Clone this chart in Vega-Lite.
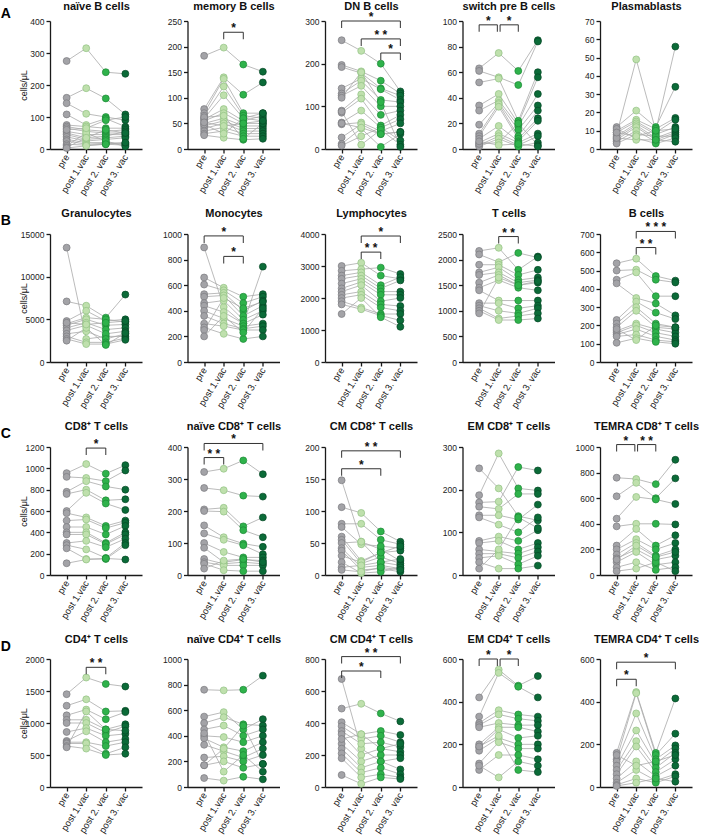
{
"$schema":"https://vega.github.io/schema/vega-lite/v6.json",
"padding":{"left":0,"top":0,"right":0,"bottom":0},
"config":{
 "font":"Liberation Sans",
 "view":{"stroke":null},
 "axis":{"domainColor":"#1a1a1a","domainWidth":1.3,"tickColor":"#1a1a1a","tickWidth":1.3,"tickSize":4,"labelFontSize":8.5,"labelColor":"#222","labelPadding":2,"grid":false,"titleFontSize":9,"titleFontWeight":"normal","titleColor":"#111"},
 "axisY":{"minExtent":16,"maxExtent":16,"titlePadding":6}
},
"datasets":{
"tp":[{"k":"a","i":1},{"k":"b","i":2},{"k":"c","i":3},{"k":"d","i":4}],
"br":[
{"p":"A2","i":2,"i2":3,"im":2.5,"v":228,"lab":"*"},
{"p":"A3","i":1,"i2":4,"im":2.5,"v":300,"lab":"*"},
{"p":"A3","i":2,"i2":4,"im":3,"v":258,"lab":"* *"},
{"p":"A3","i":3,"i2":4,"im":3.5,"v":225,"lab":"*"},
{"p":"A4","i":1,"i2":1.93,"im":1.47,"v":97,"lab":"*"},
{"p":"A4","i":2.07,"i2":3,"im":2.53,"v":97,"lab":"*"},
{"p":"B2","i":1,"i2":3,"im":2,"v":985,"lab":"*"},
{"p":"B2","i":2,"i2":3,"im":2.5,"v":825,"lab":"*"},
{"p":"B3","i":2,"i2":4,"im":3,"v":3937,"lab":"*"},
{"p":"B3","i":2,"i2":3,"im":2.5,"v":3434,"lab":"* *"},
{"p":"B4","i":2,"i2":3,"im":2.5,"v":2450,"lab":"* *"},
{"p":"B5","i":2,"i2":4,"im":3,"v":714,"lab":"* * *"},
{"p":"B5","i":2,"i2":3,"im":2.5,"v":626,"lab":"* *"},
{"p":"C1","i":2,"i2":3,"im":2.5,"v":1190,"lab":"*"},
{"p":"C2","i":1,"i2":4,"im":2.5,"v":411,"lab":"*"},
{"p":"C2","i":1,"i2":2,"im":1.5,"v":367,"lab":"* *"},
{"p":"C3","i":1,"i2":4,"im":2.5,"v":194,"lab":"* *"},
{"p":"C3","i":1,"i2":3,"im":2,"v":166,"lab":"*"},
{"p":"C5","i":1,"i2":1.93,"im":1.47,"v":1019,"lab":"*"},
{"p":"C5","i":2.07,"i2":3,"im":2.53,"v":1019,"lab":"* *"},
{"p":"D1","i":2,"i2":3,"im":2.5,"v":1870,"lab":"* *"},
{"p":"D3","i":1,"i2":4,"im":2.5,"v":815,"lab":"* *"},
{"p":"D3","i":1,"i2":3,"im":2,"v":725,"lab":"*"},
{"p":"D4","i":1,"i2":1.93,"im":1.47,"v":600,"lab":"*"},
{"p":"D4","i":2.07,"i2":3,"im":2.53,"v":600,"lab":"*"},
{"p":"D5","i":1,"i2":4,"im":2.5,"v":585,"lab":"*"},
{"p":"D5","i":1,"i2":2,"im":1.5,"v":505,"lab":"*"}
],
"cells":[
{"p":"A1","s":1,"a":275,"b":315,"c":240,"d":235},
{"p":"A1","s":2,"a":160,"b":190,"c":158,"d":108},
{"p":"A1","s":3,"a":143,"b":110,"c":100,"d":90},
{"p":"A1","s":4,"a":108,"b":75,"c":95,"d":70},
{"p":"A1","s":5,"a":75,"b":70,"c":65,"d":65},
{"p":"A1","s":6,"a":70,"b":60,"c":55,"d":60},
{"p":"A1","s":7,"a":65,"b":55,"c":50,"d":50},
{"p":"A1","s":8,"a":55,"b":45,"c":45,"d":45},
{"p":"A1","s":9,"a":50,"b":35,"c":40,"d":55},
{"p":"A1","s":10,"a":45,"b":30,"c":35,"d":40},
{"p":"A1","s":11,"a":38,"b":25,"c":30,"d":35},
{"p":"A1","s":12,"a":30,"b":20,"c":20,"d":18},
{"p":"A1","s":13,"a":25,"b":15,"c":18,"d":15},
{"p":"A1","s":14,"a":15,"b":12,"c":15,"d":12},
{"p":"A1","s":15,"a":10,"b":50,"c":25,"d":8},
{"p":"A1","s":16,"a":5,"b":35,"c":60,"d":50},
{"p":"A1","s":17,"a":3,"b":10,"c":15,"d":20},
{"p":"A1","s":18,"a":60,"b":65,"c":90,"d":100},
{"p":"A2","s":1,"a":182,"b":198,"c":165,"d":151},
{"p":"A2","s":2,"a":78,"b":140,"c":106,"d":130},
{"p":"A2","s":3,"a":70,"b":137,"c":70,"d":70},
{"p":"A2","s":4,"a":65,"b":122,"c":65,"d":60},
{"p":"A2","s":5,"a":60,"b":105,"c":60,"d":55},
{"p":"A2","s":6,"a":58,"b":78,"c":55,"d":65},
{"p":"A2","s":7,"a":55,"b":70,"c":50,"d":50},
{"p":"A2","s":8,"a":50,"b":60,"c":45,"d":45},
{"p":"A2","s":9,"a":45,"b":55,"c":40,"d":40},
{"p":"A2","s":10,"a":40,"b":50,"c":35,"d":35},
{"p":"A2","s":11,"a":35,"b":42,"c":30,"d":30},
{"p":"A2","s":12,"a":30,"b":35,"c":25,"d":25},
{"p":"A2","s":13,"a":27,"b":22,"c":18,"d":20},
{"p":"A2","s":14,"a":62,"b":65,"c":20,"d":50},
{"p":"A2","s":15,"a":48,"b":30,"c":60,"d":70},
{"p":"A2","s":16,"a":52,"b":45,"c":50,"d":55},
{"p":"A3","s":1,"a":255,"b":230,"c":200,"d":135},
{"p":"A3","s":2,"a":197,"b":182,"c":160,"d":130},
{"p":"A3","s":3,"a":192,"b":178,"c":142,"d":125},
{"p":"A3","s":4,"a":142,"b":165,"c":140,"d":115},
{"p":"A3","s":5,"a":130,"b":160,"c":115,"d":110},
{"p":"A3","s":6,"a":125,"b":148,"c":100,"d":100},
{"p":"A3","s":7,"a":90,"b":128,"c":80,"d":90},
{"p":"A3","s":8,"a":85,"b":118,"c":55,"d":80},
{"p":"A3","s":9,"a":62,"b":90,"c":50,"d":70},
{"p":"A3","s":10,"a":58,"b":62,"c":42,"d":60},
{"p":"A3","s":11,"a":27,"b":58,"c":35,"d":40},
{"p":"A3","s":12,"a":12,"b":48,"c":5,"d":35},
{"p":"A3","s":13,"a":8,"b":30,"c":50,"d":20},
{"p":"A3","s":14,"a":88,"b":10,"c":45,"d":10},
{"p":"A3","s":15,"a":120,"b":180,"c":110,"d":5},
{"p":"A3","s":16,"a":60,"b":50,"c":35,"d":40},
{"p":"A4","s":1,"a":63,"b":75,"c":61,"d":85},
{"p":"A4","s":2,"a":61,"b":56,"c":50,"d":84},
{"p":"A4","s":3,"a":52,"b":55,"c":22,"d":60},
{"p":"A4","s":4,"a":34,"b":43,"c":20,"d":56},
{"p":"A4","s":5,"a":30,"b":38,"c":18,"d":43},
{"p":"A4","s":6,"a":19,"b":36,"c":15,"d":34},
{"p":"A4","s":7,"a":12,"b":35,"c":10,"d":30},
{"p":"A4","s":8,"a":10,"b":33,"c":8,"d":24},
{"p":"A4","s":9,"a":8,"b":18,"c":6,"d":22},
{"p":"A4","s":10,"a":5,"b":12,"c":5,"d":12},
{"p":"A4","s":11,"a":3,"b":10,"c":3,"d":10},
{"p":"A4","s":12,"a":2,"b":8,"c":2,"d":5},
{"p":"A4","s":13,"a":4,"b":5,"c":20,"d":3},
{"p":"A4","s":14,"a":6,"b":3,"c":4,"d":2},
{"p":"A5","s":1,"a":8,"b":49,"c":10,"d":56},
{"p":"A5","s":2,"a":12,"b":21,"c":12,"d":34},
{"p":"A5","s":3,"a":10,"b":16,"c":11,"d":17},
{"p":"A5","s":4,"a":9,"b":15,"c":9,"d":16},
{"p":"A5","s":5,"a":7,"b":14,"c":8,"d":12},
{"p":"A5","s":6,"a":6,"b":13,"c":6,"d":10},
{"p":"A5","s":7,"a":5,"b":12,"c":5,"d":9},
{"p":"A5","s":8,"a":4,"b":10,"c":4,"d":8},
{"p":"A5","s":9,"a":3,"b":8,"c":7,"d":7},
{"p":"A5","s":10,"a":11,"b":6,"c":3,"d":6},
{"p":"A5","s":11,"a":6,"b":5,"c":5,"d":4},
{"p":"A5","s":12,"a":9,"b":7,"c":10,"d":11},
{"p":"B1","s":1,"a":13400,"b":2700,"c":3000,"d":3000},
{"p":"B1","s":2,"a":7100,"b":6600,"c":5200,"d":7900},
{"p":"B1","s":3,"a":4800,"b":6000,"c":4800,"d":5000},
{"p":"B1","s":4,"a":4500,"b":5200,"c":5000,"d":4700},
{"p":"B1","s":5,"a":4300,"b":5000,"c":4300,"d":4400},
{"p":"B1","s":6,"a":4000,"b":4600,"c":3800,"d":4000},
{"p":"B1","s":7,"a":3700,"b":4300,"c":3300,"d":3600},
{"p":"B1","s":8,"a":3300,"b":3600,"c":2700,"d":3300},
{"p":"B1","s":9,"a":3000,"b":2300,"c":2300,"d":2800},
{"p":"B1","s":10,"a":2700,"b":2100,"c":2100,"d":2600},
{"p":"B1","s":11,"a":2500,"b":4000,"c":2000,"d":3400},
{"p":"B1","s":12,"a":4600,"b":4400,"c":4600,"d":4800},
{"p":"B2","s":1,"a":895,"b":430,"c":300,"d":745},
{"p":"B2","s":2,"a":660,"b":580,"c":510,"d":530},
{"p":"B2","s":3,"a":605,"b":560,"c":460,"d":510},
{"p":"B2","s":4,"a":530,"b":540,"c":400,"d":480},
{"p":"B2","s":5,"a":510,"b":520,"c":360,"d":440},
{"p":"B2","s":6,"a":460,"b":480,"c":330,"d":400},
{"p":"B2","s":7,"a":440,"b":390,"c":300,"d":370},
{"p":"B2","s":8,"a":400,"b":340,"c":280,"d":300},
{"p":"B2","s":9,"a":360,"b":300,"c":260,"d":280},
{"p":"B2","s":10,"a":300,"b":280,"c":250,"d":250},
{"p":"B2","s":11,"a":270,"b":220,"c":180,"d":200},
{"p":"B2","s":12,"a":250,"b":500,"c":420,"d":470},
{"p":"B2","s":13,"a":200,"b":360,"c":230,"d":420},
{"p":"B3","s":1,"a":3000,"b":3100,"c":2700,"d":2600},
{"p":"B3","s":2,"a":2850,"b":2900,"c":2950,"d":2750},
{"p":"B3","s":3,"a":2700,"b":2800,"c":2400,"d":2650},
{"p":"B3","s":4,"a":2600,"b":2700,"c":2300,"d":2550},
{"p":"B3","s":5,"a":2450,"b":2600,"c":2200,"d":2200},
{"p":"B3","s":6,"a":2300,"b":2500,"c":2100,"d":2100},
{"p":"B3","s":7,"a":2200,"b":2400,"c":1900,"d":2000},
{"p":"B3","s":8,"a":2100,"b":2200,"c":1800,"d":1750},
{"p":"B3","s":9,"a":2000,"b":2100,"c":1700,"d":1600},
{"p":"B3","s":10,"a":1900,"b":1700,"c":1500,"d":1500},
{"p":"B3","s":11,"a":1800,"b":1650,"c":1450,"d":1300},
{"p":"B3","s":12,"a":1500,"b":2000,"c":1400,"d":1100},
{"p":"B4","s":1,"a":2170,"b":2230,"c":1800,"d":2060},
{"p":"B4","s":2,"a":2100,"b":1950,"c":2130,"d":2040},
{"p":"B4","s":3,"a":1900,"b":1900,"c":1700,"d":1800},
{"p":"B4","s":4,"a":1750,"b":1850,"c":1600,"d":1650},
{"p":"B4","s":5,"a":1700,"b":1750,"c":1550,"d":1600},
{"p":"B4","s":6,"a":1550,"b":1700,"c":1500,"d":1550},
{"p":"B4","s":7,"a":1450,"b":1600,"c":1450,"d":1400},
{"p":"B4","s":8,"a":1400,"b":1200,"c":1200,"d":1200},
{"p":"B4","s":9,"a":1150,"b":1150,"c":1050,"d":1100},
{"p":"B4","s":10,"a":1100,"b":1000,"c":950,"d":1050},
{"p":"B4","s":11,"a":1050,"b":850,"c":900,"d":950},
{"p":"B4","s":12,"a":1000,"b":820,"c":820,"d":850},
{"p":"B4","s":13,"a":950,"b":1650,"c":1500,"d":1580},
{"p":"B5","s":1,"a":540,"b":565,"c":470,"d":445},
{"p":"B5","s":2,"a":500,"b":505,"c":450,"d":435},
{"p":"B5","s":3,"a":450,"b":490,"c":360,"d":360},
{"p":"B5","s":4,"a":430,"b":350,"c":320,"d":255},
{"p":"B5","s":5,"a":230,"b":330,"c":270,"d":235},
{"p":"B5","s":6,"a":210,"b":300,"c":210,"d":190},
{"p":"B5","s":7,"a":190,"b":280,"c":190,"d":180},
{"p":"B5","s":8,"a":170,"b":210,"c":180,"d":160},
{"p":"B5","s":9,"a":160,"b":200,"c":160,"d":140},
{"p":"B5","s":10,"a":150,"b":180,"c":140,"d":120},
{"p":"B5","s":11,"a":140,"b":150,"c":120,"d":110},
{"p":"B5","s":12,"a":105,"b":130,"c":110,"d":100},
{"p":"B5","s":13,"a":180,"b":120,"c":200,"d":190},
{"p":"C1","s":1,"a":955,"b":1040,"c":950,"d":1030},
{"p":"C1","s":2,"a":920,"b":910,"c":880,"d":980},
{"p":"C1","s":3,"a":780,"b":880,"c":830,"d":800},
{"p":"C1","s":4,"a":760,"b":800,"c":700,"d":710},
{"p":"C1","s":5,"a":600,"b":770,"c":670,"d":610},
{"p":"C1","s":6,"a":580,"b":540,"c":460,"d":510},
{"p":"C1","s":7,"a":510,"b":520,"c":440,"d":490},
{"p":"C1","s":8,"a":450,"b":450,"c":380,"d":460},
{"p":"C1","s":9,"a":400,"b":400,"c":300,"d":400},
{"p":"C1","s":10,"a":380,"b":380,"c":290,"d":380},
{"p":"C1","s":11,"a":300,"b":320,"c":260,"d":340},
{"p":"C1","s":12,"a":280,"b":240,"c":160,"d":300},
{"p":"C1","s":13,"a":250,"b":150,"c":150,"d":280},
{"p":"C1","s":14,"a":110,"b":145,"c":155,"d":145},
{"p":"C2","s":1,"a":322,"b":332,"c":358,"d":315},
{"p":"C2","s":2,"a":272,"b":265,"c":248,"d":245},
{"p":"C2","s":3,"a":205,"b":210,"c":152,"d":180},
{"p":"C2","s":4,"a":200,"b":198,"c":140,"d":118},
{"p":"C2","s":5,"a":155,"b":118,"c":98,"d":88},
{"p":"C2","s":6,"a":130,"b":110,"c":93,"d":65},
{"p":"C2","s":7,"a":100,"b":72,"c":55,"d":55},
{"p":"C2","s":8,"a":85,"b":40,"c":48,"d":45},
{"p":"C2","s":9,"a":50,"b":35,"c":40,"d":35},
{"p":"C2","s":10,"a":40,"b":30,"c":30,"d":30},
{"p":"C2","s":11,"a":35,"b":15,"c":12,"d":12},
{"p":"C2","s":12,"a":20,"b":45,"c":50,"d":40},
{"p":"C3","s":1,"a":148,"b":52,"c":40,"d":22},
{"p":"C3","s":2,"a":106,"b":97,"c":68,"d":52},
{"p":"C3","s":3,"a":80,"b":80,"c":55,"d":48},
{"p":"C3","s":4,"a":75,"b":48,"c":45,"d":42},
{"p":"C3","s":5,"a":60,"b":22,"c":35,"d":38},
{"p":"C3","s":6,"a":55,"b":18,"c":28,"d":18},
{"p":"C3","s":7,"a":50,"b":52,"c":20,"d":15},
{"p":"C3","s":8,"a":42,"b":12,"c":15,"d":10},
{"p":"C3","s":9,"a":38,"b":8,"c":10,"d":5},
{"p":"C3","s":10,"a":30,"b":20,"c":35,"d":45},
{"p":"C3","s":11,"a":20,"b":3,"c":5,"d":12},
{"p":"C3","s":12,"a":12,"b":15,"c":20,"d":25},
{"p":"C3","s":13,"a":8,"b":5,"c":12,"d":8},
{"p":"C4","s":1,"a":250,"b":203,"c":138,"d":128},
{"p":"C4","s":2,"a":187,"b":285,"c":203,"d":198},
{"p":"C4","s":3,"a":170,"b":172,"c":253,"d":245},
{"p":"C4","s":4,"a":160,"b":155,"c":190,"d":190},
{"p":"C4","s":5,"a":140,"b":140,"c":130,"d":165},
{"p":"C4","s":6,"a":135,"b":118,"c":100,"d":135},
{"p":"C4","s":7,"a":80,"b":90,"c":80,"d":105},
{"p":"C4","s":8,"a":75,"b":80,"c":60,"d":75},
{"p":"C4","s":9,"a":60,"b":55,"c":50,"d":65},
{"p":"C4","s":10,"a":50,"b":50,"c":40,"d":55},
{"p":"C4","s":11,"a":40,"b":45,"c":25,"d":45},
{"p":"C4","s":12,"a":30,"b":15,"c":15,"d":22},
{"p":"C4","s":13,"a":15,"b":60,"c":135,"d":110},
{"p":"C5","s":1,"a":760,"b":750,"c":710,"d":900},
{"p":"C5","s":2,"a":615,"b":720,"c":600,"d":755},
{"p":"C5","s":3,"a":440,"b":610,"c":590,"d":555},
{"p":"C5","s":4,"a":380,"b":400,"c":400,"d":395},
{"p":"C5","s":5,"a":230,"b":360,"c":230,"d":310},
{"p":"C5","s":6,"a":200,"b":280,"c":200,"d":250},
{"p":"C5","s":7,"a":160,"b":250,"c":150,"d":200},
{"p":"C5","s":8,"a":130,"b":200,"c":120,"d":150},
{"p":"C5","s":9,"a":100,"b":180,"c":80,"d":100},
{"p":"C5","s":10,"a":60,"b":100,"c":40,"d":60},
{"p":"C5","s":11,"a":30,"b":50,"c":100,"d":30},
{"p":"C5","s":12,"a":120,"b":230,"c":140,"d":180},
{"p":"D1","s":1,"a":1450,"b":1710,"c":1610,"d":1570},
{"p":"D1","s":2,"a":1270,"b":1370,"c":1180,"d":1190},
{"p":"D1","s":3,"a":1120,"b":1210,"c":1060,"d":1170},
{"p":"D1","s":4,"a":1050,"b":1050,"c":900,"d":980},
{"p":"D1","s":5,"a":1000,"b":1000,"c":850,"d":950},
{"p":"D1","s":6,"a":860,"b":920,"c":800,"d":830},
{"p":"D1","s":7,"a":720,"b":870,"c":700,"d":750},
{"p":"D1","s":8,"a":700,"b":700,"c":640,"d":700},
{"p":"D1","s":9,"a":680,"b":680,"c":520,"d":620},
{"p":"D1","s":10,"a":640,"b":600,"c":500,"d":520},
{"p":"D1","s":11,"a":620,"b":1180,"c":900,"d":880},
{"p":"D2","s":1,"a":760,"b":755,"c":760,"d":870},
{"p":"D2","s":2,"a":550,"b":585,"c":450,"d":530},
{"p":"D2","s":3,"a":500,"b":545,"c":490,"d":480},
{"p":"D2","s":4,"a":450,"b":480,"c":400,"d":450},
{"p":"D2","s":5,"a":400,"b":390,"c":350,"d":400},
{"p":"D2","s":6,"a":380,"b":310,"c":280,"d":350},
{"p":"D2","s":7,"a":330,"b":280,"c":230,"d":300},
{"p":"D2","s":8,"a":230,"b":240,"c":200,"d":250},
{"p":"D2","s":9,"a":170,"b":200,"c":150,"d":180},
{"p":"D2","s":10,"a":70,"b":50,"c":80,"d":60},
{"p":"D2","s":11,"a":420,"b":120,"c":250,"d":120},
{"p":"D2","s":12,"a":170,"b":300,"c":480,"d":180},
{"p":"D3","s":1,"a":675,"b":240,"c":160,"d":110},
{"p":"D3","s":2,"a":490,"b":520,"c":460,"d":410},
{"p":"D3","s":3,"a":405,"b":330,"c":350,"d":325},
{"p":"D3","s":4,"a":380,"b":300,"c":320,"d":280},
{"p":"D3","s":5,"a":350,"b":270,"c":280,"d":250},
{"p":"D3","s":6,"a":330,"b":200,"c":240,"d":220},
{"p":"D3","s":7,"a":270,"b":160,"c":200,"d":200},
{"p":"D3","s":8,"a":240,"b":120,"c":160,"d":180},
{"p":"D3","s":9,"a":210,"b":90,"c":120,"d":80},
{"p":"D3","s":10,"a":180,"b":60,"c":80,"d":60},
{"p":"D3","s":11,"a":75,"b":20,"c":60,"d":50},
{"p":"D3","s":12,"a":300,"b":330,"c":240,"d":270},
{"p":"D4","s":1,"a":420,"b":550,"c":475,"d":520},
{"p":"D4","s":2,"a":330,"b":535,"c":470,"d":420},
{"p":"D4","s":3,"a":300,"b":360,"c":340,"d":330},
{"p":"D4","s":4,"a":290,"b":340,"c":320,"d":310},
{"p":"D4","s":5,"a":280,"b":300,"c":290,"d":290},
{"p":"D4","s":6,"a":200,"b":280,"c":280,"d":260},
{"p":"D4","s":7,"a":185,"b":270,"c":230,"d":240},
{"p":"D4","s":8,"a":170,"b":230,"c":200,"d":200},
{"p":"D4","s":9,"a":110,"b":210,"c":180,"d":180},
{"p":"D4","s":10,"a":80,"b":150,"c":150,"d":130},
{"p":"D4","s":11,"a":100,"b":45,"c":120,"d":100},
{"p":"D4","s":12,"a":190,"b":240,"c":80,"d":70},
{"p":"D5","s":1,"a":160,"b":445,"c":160,"d":415},
{"p":"D5","s":2,"a":130,"b":440,"c":150,"d":250},
{"p":"D5","s":3,"a":120,"b":345,"c":130,"d":195},
{"p":"D5","s":4,"a":100,"b":265,"c":110,"d":180},
{"p":"D5","s":5,"a":80,"b":215,"c":90,"d":160},
{"p":"D5","s":6,"a":60,"b":190,"c":70,"d":130},
{"p":"D5","s":7,"a":40,"b":120,"c":50,"d":100},
{"p":"D5","s":8,"a":20,"b":80,"c":30,"d":60},
{"p":"D5","s":9,"a":10,"b":40,"c":20,"d":50},
{"p":"D5","s":10,"a":5,"b":20,"c":40,"d":25},
{"p":"D5","s":11,"a":150,"b":100,"c":120,"d":150}
]
},
"spacing":10,
"vconcat":[
{"title":{"text":"A","orient":"left","angle":0,"anchor":"end","fontSize":14,"fontWeight":"bold","offset":-2,"frame":"bounds","baseline":"top","dy":7},
 "bounds":"flush","spacing":45.5,
 "hconcat":[
  {"width":92,"height":128,"resolve":{"axis":{"x":"independent"}},
   "encoding":{"y":{"field":"v","type":"quantitative","scale":{"domain":[0,400],"nice":false},"axis":{"values":[0,100,200,300,400],"format":"d","title":"cells/μL"}}},
   "layer":[
    {"data":{"name":"cells"},"transform":[{"filter":"datum.p=='A1'"},{"fold":["a","b","c","d"],"as":["k","v"]},{"lookup":"k","from":{"data":{"name":"tp"},"key":"k","fields":["i"]}}],
     "encoding":{"x":{"field":"i","type":"quantitative","scale":{"domain":[0.15,4.85],"nice":false,"zero":false},"axis":{"values":[1,2,3,4],"labelExpr":"['','pre','post 1.vac','post 2. vac','post 3. vac'][datum.value]","labelAngle":-58,"labelAlign":"right","labelBaseline":"middle","labelFlush":false,"labelOverlap":false,"labelFontSize":9.5,"title":null}}},
     "layer":[{"mark":{"type":"line","color":"#a9a9a9","strokeWidth":0.8},"encoding":{"detail":{"field":"s","type":"nominal"}}},
      {"mark":{"type":"point","shape":"circle","filled":true,"size":48,"strokeWidth":0.7,"opacity":1},"encoding":{"fill":{"field":"k","type":"nominal","scale":{"domain":["a","b","c","d"],"range":["#a3a3a7","#bfe0ad","#2fb24b","#0b6b38"]},"legend":null},"stroke":{"field":"k","type":"nominal","scale":{"domain":["a","b","c","d"],"range":["#7b7b80","#90c182","#1d8a37","#064825"]},"legend":null}}}]},
    {"data":{"name":"br"},"transform":[{"filter":"datum.p=='A1'"}],
     "encoding":{"x":{"field":"i","type":"quantitative","scale":{"domain":[0.15,4.85],"nice":false,"zero":false},"axis":{"orient":"top","title":"naïve B cells","domain":false,"ticks":false,"labels":false,"titleFontSize":11,"titleFontWeight":"bold","titlePadding":10,"minExtent":0,"maxExtent":0}}},
     "layer":[{"mark":{"type":"rule","color":"#333","strokeWidth":1},"encoding":{"x2":{"field":"i2"}}}]}]},
  {"width":92,"height":128,"resolve":{"axis":{"x":"independent"}},
   "encoding":{"y":{"field":"v","type":"quantitative","scale":{"domain":[0,250],"nice":false},"axis":{"values":[0,50,100,150,200,250],"format":"d","title":null}}},
   "layer":[
    {"data":{"name":"cells"},"transform":[{"filter":"datum.p=='A2'"},{"fold":["a","b","c","d"],"as":["k","v"]},{"lookup":"k","from":{"data":{"name":"tp"},"key":"k","fields":["i"]}}],
     "encoding":{"x":{"field":"i","type":"quantitative","scale":{"domain":[0.15,4.85],"nice":false,"zero":false},"axis":{"values":[1,2,3,4],"labelExpr":"['','pre','post 1.vac','post 2. vac','post 3. vac'][datum.value]","labelAngle":-58,"labelAlign":"right","labelBaseline":"middle","labelFlush":false,"labelOverlap":false,"labelFontSize":9.5,"title":null}}},
     "layer":[{"mark":{"type":"line","color":"#a9a9a9","strokeWidth":0.8},"encoding":{"detail":{"field":"s","type":"nominal"}}},
      {"mark":{"type":"point","shape":"circle","filled":true,"size":48,"strokeWidth":0.7,"opacity":1},"encoding":{"fill":{"field":"k","type":"nominal","scale":{"domain":["a","b","c","d"],"range":["#a3a3a7","#bfe0ad","#2fb24b","#0b6b38"]},"legend":null},"stroke":{"field":"k","type":"nominal","scale":{"domain":["a","b","c","d"],"range":["#7b7b80","#90c182","#1d8a37","#064825"]},"legend":null}}}]},
    {"data":{"name":"br"},"transform":[{"filter":"datum.p=='A2'"}],
     "encoding":{"x":{"field":"i","type":"quantitative","scale":{"domain":[0.15,4.85],"nice":false,"zero":false},"axis":{"orient":"top","title":"memory B cells","domain":false,"ticks":false,"labels":false,"titleFontSize":11,"titleFontWeight":"bold","titlePadding":10,"minExtent":0,"maxExtent":0}}},
     "layer":[{"mark":{"type":"rule","color":"#333","strokeWidth":1},"encoding":{"x2":{"field":"i2"}}},
      {"mark":{"type":"tick","orient":"vertical","size":7,"thickness":1,"yOffset":3.5,"color":"#333","opacity":1},"encoding":{}},
      {"mark":{"type":"tick","orient":"vertical","size":7,"thickness":1,"yOffset":3.5,"color":"#333","opacity":1},"encoding":{"x":{"field":"i2","type":"quantitative"}}},
      {"mark":{"type":"text","fontSize":12,"fontWeight":"bold","baseline":"alphabetic","dy":0,"color":"#111"},"encoding":{"x":{"field":"im","type":"quantitative"},"text":{"field":"lab"}}}]}]},
  {"width":92,"height":128,"resolve":{"axis":{"x":"independent"}},
   "encoding":{"y":{"field":"v","type":"quantitative","scale":{"domain":[0,300],"nice":false},"axis":{"values":[0,100,200,300],"format":"d","title":null}}},
   "layer":[
    {"data":{"name":"cells"},"transform":[{"filter":"datum.p=='A3'"},{"fold":["a","b","c","d"],"as":["k","v"]},{"lookup":"k","from":{"data":{"name":"tp"},"key":"k","fields":["i"]}}],
     "encoding":{"x":{"field":"i","type":"quantitative","scale":{"domain":[0.15,4.85],"nice":false,"zero":false},"axis":{"values":[1,2,3,4],"labelExpr":"['','pre','post 1.vac','post 2. vac','post 3. vac'][datum.value]","labelAngle":-58,"labelAlign":"right","labelBaseline":"middle","labelFlush":false,"labelOverlap":false,"labelFontSize":9.5,"title":null}}},
     "layer":[{"mark":{"type":"line","color":"#a9a9a9","strokeWidth":0.8},"encoding":{"detail":{"field":"s","type":"nominal"}}},
      {"mark":{"type":"point","shape":"circle","filled":true,"size":48,"strokeWidth":0.7,"opacity":1},"encoding":{"fill":{"field":"k","type":"nominal","scale":{"domain":["a","b","c","d"],"range":["#a3a3a7","#bfe0ad","#2fb24b","#0b6b38"]},"legend":null},"stroke":{"field":"k","type":"nominal","scale":{"domain":["a","b","c","d"],"range":["#7b7b80","#90c182","#1d8a37","#064825"]},"legend":null}}}]},
    {"data":{"name":"br"},"transform":[{"filter":"datum.p=='A3'"}],
     "encoding":{"x":{"field":"i","type":"quantitative","scale":{"domain":[0.15,4.85],"nice":false,"zero":false},"axis":{"orient":"top","title":"DN B cells","domain":false,"ticks":false,"labels":false,"titleFontSize":11,"titleFontWeight":"bold","titlePadding":10,"minExtent":0,"maxExtent":0}}},
     "layer":[{"mark":{"type":"rule","color":"#333","strokeWidth":1},"encoding":{"x2":{"field":"i2"}}},
      {"mark":{"type":"tick","orient":"vertical","size":7,"thickness":1,"yOffset":3.5,"color":"#333","opacity":1},"encoding":{}},
      {"mark":{"type":"tick","orient":"vertical","size":7,"thickness":1,"yOffset":3.5,"color":"#333","opacity":1},"encoding":{"x":{"field":"i2","type":"quantitative"}}},
      {"mark":{"type":"text","fontSize":12,"fontWeight":"bold","baseline":"alphabetic","dy":0,"color":"#111"},"encoding":{"x":{"field":"im","type":"quantitative"},"text":{"field":"lab"}}}]}]},
  {"width":92,"height":128,"resolve":{"axis":{"x":"independent"}},
   "encoding":{"y":{"field":"v","type":"quantitative","scale":{"domain":[0,100],"nice":false},"axis":{"values":[0,20,40,60,80,100],"format":"d","title":null}}},
   "layer":[
    {"data":{"name":"cells"},"transform":[{"filter":"datum.p=='A4'"},{"fold":["a","b","c","d"],"as":["k","v"]},{"lookup":"k","from":{"data":{"name":"tp"},"key":"k","fields":["i"]}}],
     "encoding":{"x":{"field":"i","type":"quantitative","scale":{"domain":[0.15,4.85],"nice":false,"zero":false},"axis":{"values":[1,2,3,4],"labelExpr":"['','pre','post 1.vac','post 2. vac','post 3. vac'][datum.value]","labelAngle":-58,"labelAlign":"right","labelBaseline":"middle","labelFlush":false,"labelOverlap":false,"labelFontSize":9.5,"title":null}}},
     "layer":[{"mark":{"type":"line","color":"#a9a9a9","strokeWidth":0.8},"encoding":{"detail":{"field":"s","type":"nominal"}}},
      {"mark":{"type":"point","shape":"circle","filled":true,"size":48,"strokeWidth":0.7,"opacity":1},"encoding":{"fill":{"field":"k","type":"nominal","scale":{"domain":["a","b","c","d"],"range":["#a3a3a7","#bfe0ad","#2fb24b","#0b6b38"]},"legend":null},"stroke":{"field":"k","type":"nominal","scale":{"domain":["a","b","c","d"],"range":["#7b7b80","#90c182","#1d8a37","#064825"]},"legend":null}}}]},
    {"data":{"name":"br"},"transform":[{"filter":"datum.p=='A4'"}],
     "encoding":{"x":{"field":"i","type":"quantitative","scale":{"domain":[0.15,4.85],"nice":false,"zero":false},"axis":{"orient":"top","title":"switch pre B cells","domain":false,"ticks":false,"labels":false,"titleFontSize":11,"titleFontWeight":"bold","titlePadding":10,"minExtent":0,"maxExtent":0}}},
     "layer":[{"mark":{"type":"rule","color":"#333","strokeWidth":1},"encoding":{"x2":{"field":"i2"}}},
      {"mark":{"type":"tick","orient":"vertical","size":7,"thickness":1,"yOffset":3.5,"color":"#333","opacity":1},"encoding":{}},
      {"mark":{"type":"tick","orient":"vertical","size":7,"thickness":1,"yOffset":3.5,"color":"#333","opacity":1},"encoding":{"x":{"field":"i2","type":"quantitative"}}},
      {"mark":{"type":"text","fontSize":12,"fontWeight":"bold","baseline":"alphabetic","dy":0,"color":"#111"},"encoding":{"x":{"field":"im","type":"quantitative"},"text":{"field":"lab"}}}]}]},
  {"width":92,"height":128,"resolve":{"axis":{"x":"independent"}},
   "encoding":{"y":{"field":"v","type":"quantitative","scale":{"domain":[0,70],"nice":false},"axis":{"values":[0,10,20,30,40,50,60,70],"format":"d","title":null}}},
   "layer":[
    {"data":{"name":"cells"},"transform":[{"filter":"datum.p=='A5'"},{"fold":["a","b","c","d"],"as":["k","v"]},{"lookup":"k","from":{"data":{"name":"tp"},"key":"k","fields":["i"]}}],
     "encoding":{"x":{"field":"i","type":"quantitative","scale":{"domain":[0.15,4.85],"nice":false,"zero":false},"axis":{"values":[1,2,3,4],"labelExpr":"['','pre','post 1.vac','post 2. vac','post 3. vac'][datum.value]","labelAngle":-58,"labelAlign":"right","labelBaseline":"middle","labelFlush":false,"labelOverlap":false,"labelFontSize":9.5,"title":null}}},
     "layer":[{"mark":{"type":"line","color":"#a9a9a9","strokeWidth":0.8},"encoding":{"detail":{"field":"s","type":"nominal"}}},
      {"mark":{"type":"point","shape":"circle","filled":true,"size":48,"strokeWidth":0.7,"opacity":1},"encoding":{"fill":{"field":"k","type":"nominal","scale":{"domain":["a","b","c","d"],"range":["#a3a3a7","#bfe0ad","#2fb24b","#0b6b38"]},"legend":null},"stroke":{"field":"k","type":"nominal","scale":{"domain":["a","b","c","d"],"range":["#7b7b80","#90c182","#1d8a37","#064825"]},"legend":null}}}]},
    {"data":{"name":"br"},"transform":[{"filter":"datum.p=='A5'"}],
     "encoding":{"x":{"field":"i","type":"quantitative","scale":{"domain":[0.15,4.85],"nice":false,"zero":false},"axis":{"orient":"top","title":"Plasmablasts","domain":false,"ticks":false,"labels":false,"titleFontSize":11,"titleFontWeight":"bold","titlePadding":10,"minExtent":0,"maxExtent":0}}},
     "layer":[{"mark":{"type":"rule","color":"#333","strokeWidth":1},"encoding":{"x2":{"field":"i2"}}}]}]}
 ]},
{"title":{"text":"B","orient":"left","angle":0,"anchor":"end","fontSize":14,"fontWeight":"bold","offset":-2,"frame":"bounds","baseline":"top","dy":7},
 "bounds":"flush","spacing":45.5,
 "hconcat":[
  {"width":92,"height":128,"resolve":{"axis":{"x":"independent"}},
   "encoding":{"y":{"field":"v","type":"quantitative","scale":{"domain":[0,15000],"nice":false},"axis":{"values":[0,5000,10000,15000],"format":"d","title":"cells/μL"}}},
   "layer":[
    {"data":{"name":"cells"},"transform":[{"filter":"datum.p=='B1'"},{"fold":["a","b","c","d"],"as":["k","v"]},{"lookup":"k","from":{"data":{"name":"tp"},"key":"k","fields":["i"]}}],
     "encoding":{"x":{"field":"i","type":"quantitative","scale":{"domain":[0.15,4.85],"nice":false,"zero":false},"axis":{"values":[1,2,3,4],"labelExpr":"['','pre','post 1.vac','post 2. vac','post 3. vac'][datum.value]","labelAngle":-58,"labelAlign":"right","labelBaseline":"middle","labelFlush":false,"labelOverlap":false,"labelFontSize":9.5,"title":null}}},
     "layer":[{"mark":{"type":"line","color":"#a9a9a9","strokeWidth":0.8},"encoding":{"detail":{"field":"s","type":"nominal"}}},
      {"mark":{"type":"point","shape":"circle","filled":true,"size":48,"strokeWidth":0.7,"opacity":1},"encoding":{"fill":{"field":"k","type":"nominal","scale":{"domain":["a","b","c","d"],"range":["#a3a3a7","#bfe0ad","#2fb24b","#0b6b38"]},"legend":null},"stroke":{"field":"k","type":"nominal","scale":{"domain":["a","b","c","d"],"range":["#7b7b80","#90c182","#1d8a37","#064825"]},"legend":null}}}]},
    {"data":{"name":"br"},"transform":[{"filter":"datum.p=='B1'"}],
     "encoding":{"x":{"field":"i","type":"quantitative","scale":{"domain":[0.15,4.85],"nice":false,"zero":false},"axis":{"orient":"top","title":"Granulocytes","domain":false,"ticks":false,"labels":false,"titleFontSize":11,"titleFontWeight":"bold","titlePadding":16,"minExtent":0,"maxExtent":0}}},
     "layer":[{"mark":{"type":"rule","color":"#333","strokeWidth":1},"encoding":{"x2":{"field":"i2"}}}]}]},
  {"width":92,"height":128,"resolve":{"axis":{"x":"independent"}},
   "encoding":{"y":{"field":"v","type":"quantitative","scale":{"domain":[0,1000],"nice":false},"axis":{"values":[0,200,400,600,800,1000],"format":"d","title":null}}},
   "layer":[
    {"data":{"name":"cells"},"transform":[{"filter":"datum.p=='B2'"},{"fold":["a","b","c","d"],"as":["k","v"]},{"lookup":"k","from":{"data":{"name":"tp"},"key":"k","fields":["i"]}}],
     "encoding":{"x":{"field":"i","type":"quantitative","scale":{"domain":[0.15,4.85],"nice":false,"zero":false},"axis":{"values":[1,2,3,4],"labelExpr":"['','pre','post 1.vac','post 2. vac','post 3. vac'][datum.value]","labelAngle":-58,"labelAlign":"right","labelBaseline":"middle","labelFlush":false,"labelOverlap":false,"labelFontSize":9.5,"title":null}}},
     "layer":[{"mark":{"type":"line","color":"#a9a9a9","strokeWidth":0.8},"encoding":{"detail":{"field":"s","type":"nominal"}}},
      {"mark":{"type":"point","shape":"circle","filled":true,"size":48,"strokeWidth":0.7,"opacity":1},"encoding":{"fill":{"field":"k","type":"nominal","scale":{"domain":["a","b","c","d"],"range":["#a3a3a7","#bfe0ad","#2fb24b","#0b6b38"]},"legend":null},"stroke":{"field":"k","type":"nominal","scale":{"domain":["a","b","c","d"],"range":["#7b7b80","#90c182","#1d8a37","#064825"]},"legend":null}}}]},
    {"data":{"name":"br"},"transform":[{"filter":"datum.p=='B2'"}],
     "encoding":{"x":{"field":"i","type":"quantitative","scale":{"domain":[0.15,4.85],"nice":false,"zero":false},"axis":{"orient":"top","title":"Monocytes","domain":false,"ticks":false,"labels":false,"titleFontSize":11,"titleFontWeight":"bold","titlePadding":16,"minExtent":0,"maxExtent":0}}},
     "layer":[{"mark":{"type":"rule","color":"#333","strokeWidth":1},"encoding":{"x2":{"field":"i2"}}},
      {"mark":{"type":"tick","orient":"vertical","size":7,"thickness":1,"yOffset":3.5,"color":"#333","opacity":1},"encoding":{}},
      {"mark":{"type":"tick","orient":"vertical","size":7,"thickness":1,"yOffset":3.5,"color":"#333","opacity":1},"encoding":{"x":{"field":"i2","type":"quantitative"}}},
      {"mark":{"type":"text","fontSize":12,"fontWeight":"bold","baseline":"alphabetic","dy":0,"color":"#111"},"encoding":{"x":{"field":"im","type":"quantitative"},"text":{"field":"lab"}}}]}]},
  {"width":92,"height":128,"resolve":{"axis":{"x":"independent"}},
   "encoding":{"y":{"field":"v","type":"quantitative","scale":{"domain":[0,4000],"nice":false},"axis":{"values":[0,1000,2000,3000,4000],"format":"d","title":null}}},
   "layer":[
    {"data":{"name":"cells"},"transform":[{"filter":"datum.p=='B3'"},{"fold":["a","b","c","d"],"as":["k","v"]},{"lookup":"k","from":{"data":{"name":"tp"},"key":"k","fields":["i"]}}],
     "encoding":{"x":{"field":"i","type":"quantitative","scale":{"domain":[0.15,4.85],"nice":false,"zero":false},"axis":{"values":[1,2,3,4],"labelExpr":"['','pre','post 1.vac','post 2. vac','post 3. vac'][datum.value]","labelAngle":-58,"labelAlign":"right","labelBaseline":"middle","labelFlush":false,"labelOverlap":false,"labelFontSize":9.5,"title":null}}},
     "layer":[{"mark":{"type":"line","color":"#a9a9a9","strokeWidth":0.8},"encoding":{"detail":{"field":"s","type":"nominal"}}},
      {"mark":{"type":"point","shape":"circle","filled":true,"size":48,"strokeWidth":0.7,"opacity":1},"encoding":{"fill":{"field":"k","type":"nominal","scale":{"domain":["a","b","c","d"],"range":["#a3a3a7","#bfe0ad","#2fb24b","#0b6b38"]},"legend":null},"stroke":{"field":"k","type":"nominal","scale":{"domain":["a","b","c","d"],"range":["#7b7b80","#90c182","#1d8a37","#064825"]},"legend":null}}}]},
    {"data":{"name":"br"},"transform":[{"filter":"datum.p=='B3'"}],
     "encoding":{"x":{"field":"i","type":"quantitative","scale":{"domain":[0.15,4.85],"nice":false,"zero":false},"axis":{"orient":"top","title":"Lymphocytes","domain":false,"ticks":false,"labels":false,"titleFontSize":11,"titleFontWeight":"bold","titlePadding":16,"minExtent":0,"maxExtent":0}}},
     "layer":[{"mark":{"type":"rule","color":"#333","strokeWidth":1},"encoding":{"x2":{"field":"i2"}}},
      {"mark":{"type":"tick","orient":"vertical","size":7,"thickness":1,"yOffset":3.5,"color":"#333","opacity":1},"encoding":{}},
      {"mark":{"type":"tick","orient":"vertical","size":7,"thickness":1,"yOffset":3.5,"color":"#333","opacity":1},"encoding":{"x":{"field":"i2","type":"quantitative"}}},
      {"mark":{"type":"text","fontSize":12,"fontWeight":"bold","baseline":"alphabetic","dy":0,"color":"#111"},"encoding":{"x":{"field":"im","type":"quantitative"},"text":{"field":"lab"}}}]}]},
  {"width":92,"height":128,"resolve":{"axis":{"x":"independent"}},
   "encoding":{"y":{"field":"v","type":"quantitative","scale":{"domain":[0,2500],"nice":false},"axis":{"values":[0,500,1000,1500,2000,2500],"format":"d","title":null}}},
   "layer":[
    {"data":{"name":"cells"},"transform":[{"filter":"datum.p=='B4'"},{"fold":["a","b","c","d"],"as":["k","v"]},{"lookup":"k","from":{"data":{"name":"tp"},"key":"k","fields":["i"]}}],
     "encoding":{"x":{"field":"i","type":"quantitative","scale":{"domain":[0.15,4.85],"nice":false,"zero":false},"axis":{"values":[1,2,3,4],"labelExpr":"['','pre','post 1.vac','post 2. vac','post 3. vac'][datum.value]","labelAngle":-58,"labelAlign":"right","labelBaseline":"middle","labelFlush":false,"labelOverlap":false,"labelFontSize":9.5,"title":null}}},
     "layer":[{"mark":{"type":"line","color":"#a9a9a9","strokeWidth":0.8},"encoding":{"detail":{"field":"s","type":"nominal"}}},
      {"mark":{"type":"point","shape":"circle","filled":true,"size":48,"strokeWidth":0.7,"opacity":1},"encoding":{"fill":{"field":"k","type":"nominal","scale":{"domain":["a","b","c","d"],"range":["#a3a3a7","#bfe0ad","#2fb24b","#0b6b38"]},"legend":null},"stroke":{"field":"k","type":"nominal","scale":{"domain":["a","b","c","d"],"range":["#7b7b80","#90c182","#1d8a37","#064825"]},"legend":null}}}]},
    {"data":{"name":"br"},"transform":[{"filter":"datum.p=='B4'"}],
     "encoding":{"x":{"field":"i","type":"quantitative","scale":{"domain":[0.15,4.85],"nice":false,"zero":false},"axis":{"orient":"top","title":"T cells","domain":false,"ticks":false,"labels":false,"titleFontSize":11,"titleFontWeight":"bold","titlePadding":16,"minExtent":0,"maxExtent":0}}},
     "layer":[{"mark":{"type":"rule","color":"#333","strokeWidth":1},"encoding":{"x2":{"field":"i2"}}},
      {"mark":{"type":"tick","orient":"vertical","size":7,"thickness":1,"yOffset":3.5,"color":"#333","opacity":1},"encoding":{}},
      {"mark":{"type":"tick","orient":"vertical","size":7,"thickness":1,"yOffset":3.5,"color":"#333","opacity":1},"encoding":{"x":{"field":"i2","type":"quantitative"}}},
      {"mark":{"type":"text","fontSize":12,"fontWeight":"bold","baseline":"alphabetic","dy":0,"color":"#111"},"encoding":{"x":{"field":"im","type":"quantitative"},"text":{"field":"lab"}}}]}]},
  {"width":92,"height":128,"resolve":{"axis":{"x":"independent"}},
   "encoding":{"y":{"field":"v","type":"quantitative","scale":{"domain":[0,700],"nice":false},"axis":{"values":[0,100,200,300,400,500,600,700],"format":"d","title":null}}},
   "layer":[
    {"data":{"name":"cells"},"transform":[{"filter":"datum.p=='B5'"},{"fold":["a","b","c","d"],"as":["k","v"]},{"lookup":"k","from":{"data":{"name":"tp"},"key":"k","fields":["i"]}}],
     "encoding":{"x":{"field":"i","type":"quantitative","scale":{"domain":[0.15,4.85],"nice":false,"zero":false},"axis":{"values":[1,2,3,4],"labelExpr":"['','pre','post 1.vac','post 2. vac','post 3. vac'][datum.value]","labelAngle":-58,"labelAlign":"right","labelBaseline":"middle","labelFlush":false,"labelOverlap":false,"labelFontSize":9.5,"title":null}}},
     "layer":[{"mark":{"type":"line","color":"#a9a9a9","strokeWidth":0.8},"encoding":{"detail":{"field":"s","type":"nominal"}}},
      {"mark":{"type":"point","shape":"circle","filled":true,"size":48,"strokeWidth":0.7,"opacity":1},"encoding":{"fill":{"field":"k","type":"nominal","scale":{"domain":["a","b","c","d"],"range":["#a3a3a7","#bfe0ad","#2fb24b","#0b6b38"]},"legend":null},"stroke":{"field":"k","type":"nominal","scale":{"domain":["a","b","c","d"],"range":["#7b7b80","#90c182","#1d8a37","#064825"]},"legend":null}}}]},
    {"data":{"name":"br"},"transform":[{"filter":"datum.p=='B5'"}],
     "encoding":{"x":{"field":"i","type":"quantitative","scale":{"domain":[0.15,4.85],"nice":false,"zero":false},"axis":{"orient":"top","title":"B cells","domain":false,"ticks":false,"labels":false,"titleFontSize":11,"titleFontWeight":"bold","titlePadding":16,"minExtent":0,"maxExtent":0}}},
     "layer":[{"mark":{"type":"rule","color":"#333","strokeWidth":1},"encoding":{"x2":{"field":"i2"}}},
      {"mark":{"type":"tick","orient":"vertical","size":7,"thickness":1,"yOffset":3.5,"color":"#333","opacity":1},"encoding":{}},
      {"mark":{"type":"tick","orient":"vertical","size":7,"thickness":1,"yOffset":3.5,"color":"#333","opacity":1},"encoding":{"x":{"field":"i2","type":"quantitative"}}},
      {"mark":{"type":"text","fontSize":12,"fontWeight":"bold","baseline":"alphabetic","dy":0,"color":"#111"},"encoding":{"x":{"field":"im","type":"quantitative"},"text":{"field":"lab"}}}]}]}
 ]},
{"title":{"text":"C","orient":"left","angle":0,"anchor":"end","fontSize":14,"fontWeight":"bold","offset":-2,"frame":"bounds","baseline":"top","dy":7},
 "bounds":"flush","spacing":45.5,
 "hconcat":[
  {"width":92,"height":128,"resolve":{"axis":{"x":"independent"}},
   "encoding":{"y":{"field":"v","type":"quantitative","scale":{"domain":[0,1200],"nice":false},"axis":{"values":[0,200,400,600,800,1000,1200],"format":"d","title":"cells/μL"}}},
   "layer":[
    {"data":{"name":"cells"},"transform":[{"filter":"datum.p=='C1'"},{"fold":["a","b","c","d"],"as":["k","v"]},{"lookup":"k","from":{"data":{"name":"tp"},"key":"k","fields":["i"]}}],
     "encoding":{"x":{"field":"i","type":"quantitative","scale":{"domain":[0.15,4.85],"nice":false,"zero":false},"axis":{"values":[1,2,3,4],"labelExpr":"['','pre','post 1.vac','post 2. vac','post 3. vac'][datum.value]","labelAngle":-58,"labelAlign":"right","labelBaseline":"middle","labelFlush":false,"labelOverlap":false,"labelFontSize":9.5,"title":null}}},
     "layer":[{"mark":{"type":"line","color":"#a9a9a9","strokeWidth":0.8},"encoding":{"detail":{"field":"s","type":"nominal"}}},
      {"mark":{"type":"point","shape":"circle","filled":true,"size":48,"strokeWidth":0.7,"opacity":1},"encoding":{"fill":{"field":"k","type":"nominal","scale":{"domain":["a","b","c","d"],"range":["#a3a3a7","#bfe0ad","#2fb24b","#0b6b38"]},"legend":null},"stroke":{"field":"k","type":"nominal","scale":{"domain":["a","b","c","d"],"range":["#7b7b80","#90c182","#1d8a37","#064825"]},"legend":null}}}]},
    {"data":{"name":"br"},"transform":[{"filter":"datum.p=='C1'"}],
     "encoding":{"x":{"field":"i","type":"quantitative","scale":{"domain":[0.15,4.85],"nice":false,"zero":false},"axis":{"orient":"top","title":"CD8⁺ T cells","domain":false,"ticks":false,"labels":false,"titleFontSize":11,"titleFontWeight":"bold","titlePadding":16,"minExtent":0,"maxExtent":0}}},
     "layer":[{"mark":{"type":"rule","color":"#333","strokeWidth":1},"encoding":{"x2":{"field":"i2"}}},
      {"mark":{"type":"tick","orient":"vertical","size":7,"thickness":1,"yOffset":3.5,"color":"#333","opacity":1},"encoding":{}},
      {"mark":{"type":"tick","orient":"vertical","size":7,"thickness":1,"yOffset":3.5,"color":"#333","opacity":1},"encoding":{"x":{"field":"i2","type":"quantitative"}}},
      {"mark":{"type":"text","fontSize":12,"fontWeight":"bold","baseline":"alphabetic","dy":0,"color":"#111"},"encoding":{"x":{"field":"im","type":"quantitative"},"text":{"field":"lab"}}}]}]},
  {"width":92,"height":128,"resolve":{"axis":{"x":"independent"}},
   "encoding":{"y":{"field":"v","type":"quantitative","scale":{"domain":[0,400],"nice":false},"axis":{"values":[0,100,200,300,400],"format":"d","title":null}}},
   "layer":[
    {"data":{"name":"cells"},"transform":[{"filter":"datum.p=='C2'"},{"fold":["a","b","c","d"],"as":["k","v"]},{"lookup":"k","from":{"data":{"name":"tp"},"key":"k","fields":["i"]}}],
     "encoding":{"x":{"field":"i","type":"quantitative","scale":{"domain":[0.15,4.85],"nice":false,"zero":false},"axis":{"values":[1,2,3,4],"labelExpr":"['','pre','post 1.vac','post 2. vac','post 3. vac'][datum.value]","labelAngle":-58,"labelAlign":"right","labelBaseline":"middle","labelFlush":false,"labelOverlap":false,"labelFontSize":9.5,"title":null}}},
     "layer":[{"mark":{"type":"line","color":"#a9a9a9","strokeWidth":0.8},"encoding":{"detail":{"field":"s","type":"nominal"}}},
      {"mark":{"type":"point","shape":"circle","filled":true,"size":48,"strokeWidth":0.7,"opacity":1},"encoding":{"fill":{"field":"k","type":"nominal","scale":{"domain":["a","b","c","d"],"range":["#a3a3a7","#bfe0ad","#2fb24b","#0b6b38"]},"legend":null},"stroke":{"field":"k","type":"nominal","scale":{"domain":["a","b","c","d"],"range":["#7b7b80","#90c182","#1d8a37","#064825"]},"legend":null}}}]},
    {"data":{"name":"br"},"transform":[{"filter":"datum.p=='C2'"}],
     "encoding":{"x":{"field":"i","type":"quantitative","scale":{"domain":[0.15,4.85],"nice":false,"zero":false},"axis":{"orient":"top","title":"naïve CD8⁺ T cells","domain":false,"ticks":false,"labels":false,"titleFontSize":11,"titleFontWeight":"bold","titlePadding":16,"minExtent":0,"maxExtent":0}}},
     "layer":[{"mark":{"type":"rule","color":"#333","strokeWidth":1},"encoding":{"x2":{"field":"i2"}}},
      {"mark":{"type":"tick","orient":"vertical","size":7,"thickness":1,"yOffset":3.5,"color":"#333","opacity":1},"encoding":{}},
      {"mark":{"type":"tick","orient":"vertical","size":7,"thickness":1,"yOffset":3.5,"color":"#333","opacity":1},"encoding":{"x":{"field":"i2","type":"quantitative"}}},
      {"mark":{"type":"text","fontSize":12,"fontWeight":"bold","baseline":"alphabetic","dy":0,"color":"#111"},"encoding":{"x":{"field":"im","type":"quantitative"},"text":{"field":"lab"}}}]}]},
  {"width":92,"height":128,"resolve":{"axis":{"x":"independent"}},
   "encoding":{"y":{"field":"v","type":"quantitative","scale":{"domain":[0,200],"nice":false},"axis":{"values":[0,50,100,150,200],"format":"d","title":null}}},
   "layer":[
    {"data":{"name":"cells"},"transform":[{"filter":"datum.p=='C3'"},{"fold":["a","b","c","d"],"as":["k","v"]},{"lookup":"k","from":{"data":{"name":"tp"},"key":"k","fields":["i"]}}],
     "encoding":{"x":{"field":"i","type":"quantitative","scale":{"domain":[0.15,4.85],"nice":false,"zero":false},"axis":{"values":[1,2,3,4],"labelExpr":"['','pre','post 1.vac','post 2. vac','post 3. vac'][datum.value]","labelAngle":-58,"labelAlign":"right","labelBaseline":"middle","labelFlush":false,"labelOverlap":false,"labelFontSize":9.5,"title":null}}},
     "layer":[{"mark":{"type":"line","color":"#a9a9a9","strokeWidth":0.8},"encoding":{"detail":{"field":"s","type":"nominal"}}},
      {"mark":{"type":"point","shape":"circle","filled":true,"size":48,"strokeWidth":0.7,"opacity":1},"encoding":{"fill":{"field":"k","type":"nominal","scale":{"domain":["a","b","c","d"],"range":["#a3a3a7","#bfe0ad","#2fb24b","#0b6b38"]},"legend":null},"stroke":{"field":"k","type":"nominal","scale":{"domain":["a","b","c","d"],"range":["#7b7b80","#90c182","#1d8a37","#064825"]},"legend":null}}}]},
    {"data":{"name":"br"},"transform":[{"filter":"datum.p=='C3'"}],
     "encoding":{"x":{"field":"i","type":"quantitative","scale":{"domain":[0.15,4.85],"nice":false,"zero":false},"axis":{"orient":"top","title":"CM CD8⁺ T cells","domain":false,"ticks":false,"labels":false,"titleFontSize":11,"titleFontWeight":"bold","titlePadding":16,"minExtent":0,"maxExtent":0}}},
     "layer":[{"mark":{"type":"rule","color":"#333","strokeWidth":1},"encoding":{"x2":{"field":"i2"}}},
      {"mark":{"type":"tick","orient":"vertical","size":7,"thickness":1,"yOffset":3.5,"color":"#333","opacity":1},"encoding":{}},
      {"mark":{"type":"tick","orient":"vertical","size":7,"thickness":1,"yOffset":3.5,"color":"#333","opacity":1},"encoding":{"x":{"field":"i2","type":"quantitative"}}},
      {"mark":{"type":"text","fontSize":12,"fontWeight":"bold","baseline":"alphabetic","dy":0,"color":"#111"},"encoding":{"x":{"field":"im","type":"quantitative"},"text":{"field":"lab"}}}]}]},
  {"width":92,"height":128,"resolve":{"axis":{"x":"independent"}},
   "encoding":{"y":{"field":"v","type":"quantitative","scale":{"domain":[0,300],"nice":false},"axis":{"values":[0,100,200,300],"format":"d","title":null}}},
   "layer":[
    {"data":{"name":"cells"},"transform":[{"filter":"datum.p=='C4'"},{"fold":["a","b","c","d"],"as":["k","v"]},{"lookup":"k","from":{"data":{"name":"tp"},"key":"k","fields":["i"]}}],
     "encoding":{"x":{"field":"i","type":"quantitative","scale":{"domain":[0.15,4.85],"nice":false,"zero":false},"axis":{"values":[1,2,3,4],"labelExpr":"['','pre','post 1.vac','post 2. vac','post 3. vac'][datum.value]","labelAngle":-58,"labelAlign":"right","labelBaseline":"middle","labelFlush":false,"labelOverlap":false,"labelFontSize":9.5,"title":null}}},
     "layer":[{"mark":{"type":"line","color":"#a9a9a9","strokeWidth":0.8},"encoding":{"detail":{"field":"s","type":"nominal"}}},
      {"mark":{"type":"point","shape":"circle","filled":true,"size":48,"strokeWidth":0.7,"opacity":1},"encoding":{"fill":{"field":"k","type":"nominal","scale":{"domain":["a","b","c","d"],"range":["#a3a3a7","#bfe0ad","#2fb24b","#0b6b38"]},"legend":null},"stroke":{"field":"k","type":"nominal","scale":{"domain":["a","b","c","d"],"range":["#7b7b80","#90c182","#1d8a37","#064825"]},"legend":null}}}]},
    {"data":{"name":"br"},"transform":[{"filter":"datum.p=='C4'"}],
     "encoding":{"x":{"field":"i","type":"quantitative","scale":{"domain":[0.15,4.85],"nice":false,"zero":false},"axis":{"orient":"top","title":"EM CD8⁺ T cells","domain":false,"ticks":false,"labels":false,"titleFontSize":11,"titleFontWeight":"bold","titlePadding":16,"minExtent":0,"maxExtent":0}}},
     "layer":[{"mark":{"type":"rule","color":"#333","strokeWidth":1},"encoding":{"x2":{"field":"i2"}}}]}]},
  {"width":92,"height":128,"resolve":{"axis":{"x":"independent"}},
   "encoding":{"y":{"field":"v","type":"quantitative","scale":{"domain":[0,1000],"nice":false},"axis":{"values":[0,200,400,600,800,1000],"format":"d","title":null}}},
   "layer":[
    {"data":{"name":"cells"},"transform":[{"filter":"datum.p=='C5'"},{"fold":["a","b","c","d"],"as":["k","v"]},{"lookup":"k","from":{"data":{"name":"tp"},"key":"k","fields":["i"]}}],
     "encoding":{"x":{"field":"i","type":"quantitative","scale":{"domain":[0.15,4.85],"nice":false,"zero":false},"axis":{"values":[1,2,3,4],"labelExpr":"['','pre','post 1.vac','post 2. vac','post 3. vac'][datum.value]","labelAngle":-58,"labelAlign":"right","labelBaseline":"middle","labelFlush":false,"labelOverlap":false,"labelFontSize":9.5,"title":null}}},
     "layer":[{"mark":{"type":"line","color":"#a9a9a9","strokeWidth":0.8},"encoding":{"detail":{"field":"s","type":"nominal"}}},
      {"mark":{"type":"point","shape":"circle","filled":true,"size":48,"strokeWidth":0.7,"opacity":1},"encoding":{"fill":{"field":"k","type":"nominal","scale":{"domain":["a","b","c","d"],"range":["#a3a3a7","#bfe0ad","#2fb24b","#0b6b38"]},"legend":null},"stroke":{"field":"k","type":"nominal","scale":{"domain":["a","b","c","d"],"range":["#7b7b80","#90c182","#1d8a37","#064825"]},"legend":null}}}]},
    {"data":{"name":"br"},"transform":[{"filter":"datum.p=='C5'"}],
     "encoding":{"x":{"field":"i","type":"quantitative","scale":{"domain":[0.15,4.85],"nice":false,"zero":false},"axis":{"orient":"top","title":"TEMRA CD8⁺ T cells","domain":false,"ticks":false,"labels":false,"titleFontSize":11,"titleFontWeight":"bold","titlePadding":16,"minExtent":0,"maxExtent":0}}},
     "layer":[{"mark":{"type":"rule","color":"#333","strokeWidth":1},"encoding":{"x2":{"field":"i2"}}},
      {"mark":{"type":"tick","orient":"vertical","size":7,"thickness":1,"yOffset":3.5,"color":"#333","opacity":1},"encoding":{}},
      {"mark":{"type":"tick","orient":"vertical","size":7,"thickness":1,"yOffset":3.5,"color":"#333","opacity":1},"encoding":{"x":{"field":"i2","type":"quantitative"}}},
      {"mark":{"type":"text","fontSize":12,"fontWeight":"bold","baseline":"alphabetic","dy":0,"color":"#111"},"encoding":{"x":{"field":"im","type":"quantitative"},"text":{"field":"lab"}}}]}]}
 ]},
{"title":{"text":"D","orient":"left","angle":0,"anchor":"end","fontSize":14,"fontWeight":"bold","offset":-2,"frame":"bounds","baseline":"top","dy":7},
 "bounds":"flush","spacing":45.5,
 "hconcat":[
  {"width":92,"height":128,"resolve":{"axis":{"x":"independent"}},
   "encoding":{"y":{"field":"v","type":"quantitative","scale":{"domain":[0,2000],"nice":false},"axis":{"values":[0,500,1000,1500,2000],"format":"d","title":"cells/μL"}}},
   "layer":[
    {"data":{"name":"cells"},"transform":[{"filter":"datum.p=='D1'"},{"fold":["a","b","c","d"],"as":["k","v"]},{"lookup":"k","from":{"data":{"name":"tp"},"key":"k","fields":["i"]}}],
     "encoding":{"x":{"field":"i","type":"quantitative","scale":{"domain":[0.15,4.85],"nice":false,"zero":false},"axis":{"values":[1,2,3,4],"labelExpr":"['','pre','post 1.vac','post 2. vac','post 3. vac'][datum.value]","labelAngle":-58,"labelAlign":"right","labelBaseline":"middle","labelFlush":false,"labelOverlap":false,"labelFontSize":9.5,"title":null}}},
     "layer":[{"mark":{"type":"line","color":"#a9a9a9","strokeWidth":0.8},"encoding":{"detail":{"field":"s","type":"nominal"}}},
      {"mark":{"type":"point","shape":"circle","filled":true,"size":48,"strokeWidth":0.7,"opacity":1},"encoding":{"fill":{"field":"k","type":"nominal","scale":{"domain":["a","b","c","d"],"range":["#a3a3a7","#bfe0ad","#2fb24b","#0b6b38"]},"legend":null},"stroke":{"field":"k","type":"nominal","scale":{"domain":["a","b","c","d"],"range":["#7b7b80","#90c182","#1d8a37","#064825"]},"legend":null}}}]},
    {"data":{"name":"br"},"transform":[{"filter":"datum.p=='D1'"}],
     "encoding":{"x":{"field":"i","type":"quantitative","scale":{"domain":[0.15,4.85],"nice":false,"zero":false},"axis":{"orient":"top","title":"CD4⁺ T cells","domain":false,"ticks":false,"labels":false,"titleFontSize":11,"titleFontWeight":"bold","titlePadding":15,"minExtent":0,"maxExtent":0}}},
     "layer":[{"mark":{"type":"rule","color":"#333","strokeWidth":1},"encoding":{"x2":{"field":"i2"}}},
      {"mark":{"type":"tick","orient":"vertical","size":7,"thickness":1,"yOffset":3.5,"color":"#333","opacity":1},"encoding":{}},
      {"mark":{"type":"tick","orient":"vertical","size":7,"thickness":1,"yOffset":3.5,"color":"#333","opacity":1},"encoding":{"x":{"field":"i2","type":"quantitative"}}},
      {"mark":{"type":"text","fontSize":12,"fontWeight":"bold","baseline":"alphabetic","dy":0,"color":"#111"},"encoding":{"x":{"field":"im","type":"quantitative"},"text":{"field":"lab"}}}]}]},
  {"width":92,"height":128,"resolve":{"axis":{"x":"independent"}},
   "encoding":{"y":{"field":"v","type":"quantitative","scale":{"domain":[0,1000],"nice":false},"axis":{"values":[0,200,400,600,800,1000],"format":"d","title":null}}},
   "layer":[
    {"data":{"name":"cells"},"transform":[{"filter":"datum.p=='D2'"},{"fold":["a","b","c","d"],"as":["k","v"]},{"lookup":"k","from":{"data":{"name":"tp"},"key":"k","fields":["i"]}}],
     "encoding":{"x":{"field":"i","type":"quantitative","scale":{"domain":[0.15,4.85],"nice":false,"zero":false},"axis":{"values":[1,2,3,4],"labelExpr":"['','pre','post 1.vac','post 2. vac','post 3. vac'][datum.value]","labelAngle":-58,"labelAlign":"right","labelBaseline":"middle","labelFlush":false,"labelOverlap":false,"labelFontSize":9.5,"title":null}}},
     "layer":[{"mark":{"type":"line","color":"#a9a9a9","strokeWidth":0.8},"encoding":{"detail":{"field":"s","type":"nominal"}}},
      {"mark":{"type":"point","shape":"circle","filled":true,"size":48,"strokeWidth":0.7,"opacity":1},"encoding":{"fill":{"field":"k","type":"nominal","scale":{"domain":["a","b","c","d"],"range":["#a3a3a7","#bfe0ad","#2fb24b","#0b6b38"]},"legend":null},"stroke":{"field":"k","type":"nominal","scale":{"domain":["a","b","c","d"],"range":["#7b7b80","#90c182","#1d8a37","#064825"]},"legend":null}}}]},
    {"data":{"name":"br"},"transform":[{"filter":"datum.p=='D2'"}],
     "encoding":{"x":{"field":"i","type":"quantitative","scale":{"domain":[0.15,4.85],"nice":false,"zero":false},"axis":{"orient":"top","title":"naïve CD4⁺ T cells","domain":false,"ticks":false,"labels":false,"titleFontSize":11,"titleFontWeight":"bold","titlePadding":15,"minExtent":0,"maxExtent":0}}},
     "layer":[{"mark":{"type":"rule","color":"#333","strokeWidth":1},"encoding":{"x2":{"field":"i2"}}}]}]},
  {"width":92,"height":128,"resolve":{"axis":{"x":"independent"}},
   "encoding":{"y":{"field":"v","type":"quantitative","scale":{"domain":[0,800],"nice":false},"axis":{"values":[0,200,400,600,800],"format":"d","title":null}}},
   "layer":[
    {"data":{"name":"cells"},"transform":[{"filter":"datum.p=='D3'"},{"fold":["a","b","c","d"],"as":["k","v"]},{"lookup":"k","from":{"data":{"name":"tp"},"key":"k","fields":["i"]}}],
     "encoding":{"x":{"field":"i","type":"quantitative","scale":{"domain":[0.15,4.85],"nice":false,"zero":false},"axis":{"values":[1,2,3,4],"labelExpr":"['','pre','post 1.vac','post 2. vac','post 3. vac'][datum.value]","labelAngle":-58,"labelAlign":"right","labelBaseline":"middle","labelFlush":false,"labelOverlap":false,"labelFontSize":9.5,"title":null}}},
     "layer":[{"mark":{"type":"line","color":"#a9a9a9","strokeWidth":0.8},"encoding":{"detail":{"field":"s","type":"nominal"}}},
      {"mark":{"type":"point","shape":"circle","filled":true,"size":48,"strokeWidth":0.7,"opacity":1},"encoding":{"fill":{"field":"k","type":"nominal","scale":{"domain":["a","b","c","d"],"range":["#a3a3a7","#bfe0ad","#2fb24b","#0b6b38"]},"legend":null},"stroke":{"field":"k","type":"nominal","scale":{"domain":["a","b","c","d"],"range":["#7b7b80","#90c182","#1d8a37","#064825"]},"legend":null}}}]},
    {"data":{"name":"br"},"transform":[{"filter":"datum.p=='D3'"}],
     "encoding":{"x":{"field":"i","type":"quantitative","scale":{"domain":[0.15,4.85],"nice":false,"zero":false},"axis":{"orient":"top","title":"CM CD4⁺ T cells","domain":false,"ticks":false,"labels":false,"titleFontSize":11,"titleFontWeight":"bold","titlePadding":15,"minExtent":0,"maxExtent":0}}},
     "layer":[{"mark":{"type":"rule","color":"#333","strokeWidth":1},"encoding":{"x2":{"field":"i2"}}},
      {"mark":{"type":"tick","orient":"vertical","size":7,"thickness":1,"yOffset":3.5,"color":"#333","opacity":1},"encoding":{}},
      {"mark":{"type":"tick","orient":"vertical","size":7,"thickness":1,"yOffset":3.5,"color":"#333","opacity":1},"encoding":{"x":{"field":"i2","type":"quantitative"}}},
      {"mark":{"type":"text","fontSize":12,"fontWeight":"bold","baseline":"alphabetic","dy":0,"color":"#111"},"encoding":{"x":{"field":"im","type":"quantitative"},"text":{"field":"lab"}}}]}]},
  {"width":92,"height":128,"resolve":{"axis":{"x":"independent"}},
   "encoding":{"y":{"field":"v","type":"quantitative","scale":{"domain":[0,600],"nice":false},"axis":{"values":[0,200,400,600],"format":"d","title":null}}},
   "layer":[
    {"data":{"name":"cells"},"transform":[{"filter":"datum.p=='D4'"},{"fold":["a","b","c","d"],"as":["k","v"]},{"lookup":"k","from":{"data":{"name":"tp"},"key":"k","fields":["i"]}}],
     "encoding":{"x":{"field":"i","type":"quantitative","scale":{"domain":[0.15,4.85],"nice":false,"zero":false},"axis":{"values":[1,2,3,4],"labelExpr":"['','pre','post 1.vac','post 2. vac','post 3. vac'][datum.value]","labelAngle":-58,"labelAlign":"right","labelBaseline":"middle","labelFlush":false,"labelOverlap":false,"labelFontSize":9.5,"title":null}}},
     "layer":[{"mark":{"type":"line","color":"#a9a9a9","strokeWidth":0.8},"encoding":{"detail":{"field":"s","type":"nominal"}}},
      {"mark":{"type":"point","shape":"circle","filled":true,"size":48,"strokeWidth":0.7,"opacity":1},"encoding":{"fill":{"field":"k","type":"nominal","scale":{"domain":["a","b","c","d"],"range":["#a3a3a7","#bfe0ad","#2fb24b","#0b6b38"]},"legend":null},"stroke":{"field":"k","type":"nominal","scale":{"domain":["a","b","c","d"],"range":["#7b7b80","#90c182","#1d8a37","#064825"]},"legend":null}}}]},
    {"data":{"name":"br"},"transform":[{"filter":"datum.p=='D4'"}],
     "encoding":{"x":{"field":"i","type":"quantitative","scale":{"domain":[0.15,4.85],"nice":false,"zero":false},"axis":{"orient":"top","title":"EM CD4⁺ T cells","domain":false,"ticks":false,"labels":false,"titleFontSize":11,"titleFontWeight":"bold","titlePadding":15,"minExtent":0,"maxExtent":0}}},
     "layer":[{"mark":{"type":"rule","color":"#333","strokeWidth":1},"encoding":{"x2":{"field":"i2"}}},
      {"mark":{"type":"tick","orient":"vertical","size":7,"thickness":1,"yOffset":3.5,"color":"#333","opacity":1},"encoding":{}},
      {"mark":{"type":"tick","orient":"vertical","size":7,"thickness":1,"yOffset":3.5,"color":"#333","opacity":1},"encoding":{"x":{"field":"i2","type":"quantitative"}}},
      {"mark":{"type":"text","fontSize":12,"fontWeight":"bold","baseline":"alphabetic","dy":0,"color":"#111"},"encoding":{"x":{"field":"im","type":"quantitative"},"text":{"field":"lab"}}}]}]},
  {"width":92,"height":128,"resolve":{"axis":{"x":"independent"}},
   "encoding":{"y":{"field":"v","type":"quantitative","scale":{"domain":[0,600],"nice":false},"axis":{"values":[0,200,400,600],"format":"d","title":null}}},
   "layer":[
    {"data":{"name":"cells"},"transform":[{"filter":"datum.p=='D5'"},{"fold":["a","b","c","d"],"as":["k","v"]},{"lookup":"k","from":{"data":{"name":"tp"},"key":"k","fields":["i"]}}],
     "encoding":{"x":{"field":"i","type":"quantitative","scale":{"domain":[0.15,4.85],"nice":false,"zero":false},"axis":{"values":[1,2,3,4],"labelExpr":"['','pre','post 1.vac','post 2. vac','post 3. vac'][datum.value]","labelAngle":-58,"labelAlign":"right","labelBaseline":"middle","labelFlush":false,"labelOverlap":false,"labelFontSize":9.5,"title":null}}},
     "layer":[{"mark":{"type":"line","color":"#a9a9a9","strokeWidth":0.8},"encoding":{"detail":{"field":"s","type":"nominal"}}},
      {"mark":{"type":"point","shape":"circle","filled":true,"size":48,"strokeWidth":0.7,"opacity":1},"encoding":{"fill":{"field":"k","type":"nominal","scale":{"domain":["a","b","c","d"],"range":["#a3a3a7","#bfe0ad","#2fb24b","#0b6b38"]},"legend":null},"stroke":{"field":"k","type":"nominal","scale":{"domain":["a","b","c","d"],"range":["#7b7b80","#90c182","#1d8a37","#064825"]},"legend":null}}}]},
    {"data":{"name":"br"},"transform":[{"filter":"datum.p=='D5'"}],
     "encoding":{"x":{"field":"i","type":"quantitative","scale":{"domain":[0.15,4.85],"nice":false,"zero":false},"axis":{"orient":"top","title":"TEMRA CD4⁺ T cells","domain":false,"ticks":false,"labels":false,"titleFontSize":11,"titleFontWeight":"bold","titlePadding":15,"minExtent":0,"maxExtent":0}}},
     "layer":[{"mark":{"type":"rule","color":"#333","strokeWidth":1},"encoding":{"x2":{"field":"i2"}}},
      {"mark":{"type":"tick","orient":"vertical","size":7,"thickness":1,"yOffset":3.5,"color":"#333","opacity":1},"encoding":{}},
      {"mark":{"type":"tick","orient":"vertical","size":7,"thickness":1,"yOffset":3.5,"color":"#333","opacity":1},"encoding":{"x":{"field":"i2","type":"quantitative"}}},
      {"mark":{"type":"text","fontSize":12,"fontWeight":"bold","baseline":"alphabetic","dy":0,"color":"#111"},"encoding":{"x":{"field":"im","type":"quantitative"},"text":{"field":"lab"}}}]}]}
 ]}
]
}
